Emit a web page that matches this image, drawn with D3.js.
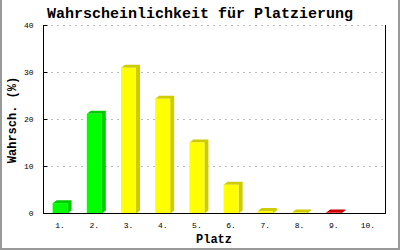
<!DOCTYPE html>
<html>
<head>
<meta charset="utf-8">
<script src="https://cdn.jsdelivr.net/npm/d3@7"></script>
<style>
  body { margin: 0; background: #fff; }
  text { font-family: 'Liberation Mono', 'DejaVu Sans Mono', monospace; }
</style>
</head>
<body>
<svg id="chart" width="400" height="250"></svg>
<script>
(function() {

  'use strict';

  var places = ['1.', '2.', '3.', '4.', '5.', '6.', '7.', '8.', '9.', '10.'];
  var chances = [2.1, 21.1, 30.9, 24.3, 15.0, 6.0, 0.4, 0.1, 0.1, 0];
  var groups = ['good', 'good', 'mid', 'mid', 'mid', 'mid', 'mid', 'mid', 'bad', 'bad'];
  var yTicks = [0, 10, 20, 30, 40];

  var faceColor = {good: '#00ff00', mid: '#ffff00', bad: '#ff0000'};
  var shadeColor = {good: '#00cc00', mid: '#cccc00', bad: '#cc0000'};
  var monoFont = 'Liberation Mono, DejaVu Sans Mono, monospace';

  var svg = d3.select('#chart');
  var left = 43, right = 385, top = 25, bottom = 213;
  var depthX = 4, depthY = 3, barW = 15;

  var x = d3.scaleBand().domain(places).range([left, right]);
  var y = d3.scaleLinear().domain([0, 40]).range([bottom, top]);

  // frame around the picture
  svg.append('path')
    .attr('d', 'M1,0V249H399V0')
    .attr('fill', 'none')
    .attr('stroke', '#999')
    .attr('stroke-width', 2);

  svg.append('text')
    .attr('x', 200).attr('y', 18)
    .attr('text-anchor', 'middle')
    .attr('font-size', '15px').attr('font-weight', 'bold')
    .text('Wahrscheinlichkeit für Platzierung');

  // grid
  svg.selectAll('.grid').data(yTicks.slice(1)).enter().append('line')
    .attr('class', 'grid')
    .attr('x1', left + 2).attr('x2', right)
    .attr('y1', function(d) { return y(d) + 0.5; })
    .attr('y2', function(d) { return y(d) + 0.5; })
    .attr('stroke', '#bbb')
    .attr('stroke-dasharray', '2,4');

  var bars = svg.selectAll('.bar').data(chances).enter().append('g').attr('class', 'bar')
    .filter(function(d) { return d > 0; });

  var bx = function(d, i) { return x.bandwidth() / 2 + x(places[i]) - barW / 2; };

  bars.append('path')
    .attr('fill', function(d, i) { return shadeColor[groups[i]]; })
    .attr('d', function(d, i) {
      var x0 = bx(d, i), x1 = x0 + barW, yt = y(d), yb = bottom + 0.5;
      return 'M' + x0 + ',' + yt + 'L' + (x0 + depthX) + ',' + (yt - depthY) +
        'L' + (x1 + depthX) + ',' + (yt - depthY) + 'L' + (x1 + depthX) + ',' + (yb - depthY) +
        'L' + x1 + ',' + yb + 'L' + x1 + ',' + yt + 'Z';
    });

  bars.append('rect')
    .attr('x', bx)
    .attr('y', function(d) { return y(d); })
    .attr('width', barW)
    .attr('height', function(d) { return bottom + 0.5 - y(d); })
    .attr('fill', function(d, i) { return faceColor[groups[i]]; });

  // y axis
  var yAxis = svg.append('g').attr('transform', 'translate(' + (left + 0.5) + ',0)')
    .call(d3.axisLeft(y).tickValues(yTicks).tickSizeInner(5).tickSizeOuter(0).tickPadding(5));
  yAxis.select('.domain').remove();
  yAxis.selectAll('.tick line').attr('x2', 4).attr('stroke', '#000');
  yAxis.selectAll('.tick text').attr('font-size', '8px').attr('font-family', monoFont);
  yAxis.append('line').attr('y1', top).attr('y2', bottom + 1).attr('stroke', '#000');

  // x axis
  var xAxis = svg.append('g').attr('transform', 'translate(0,' + (bottom + 0.5) + ')')
    .call(d3.axisBottom(x).tickSize(0).tickPadding(9));
  xAxis.select('.domain').remove();
  xAxis.selectAll('.tick text').attr('font-size', '8px').attr('font-family', monoFont);
  xAxis.append('line').attr('x1', left).attr('x2', right + 0.5).attr('stroke', '#000');

  svg.append('line')
    .attr('x1', right + 0.5).attr('x2', right + 0.5)
    .attr('y1', top).attr('y2', bottom + 1)
    .attr('stroke', '#000');

  svg.append('text')
    .attr('x', 214).attr('y', 243)
    .attr('text-anchor', 'middle')
    .attr('font-size', '12px').attr('font-weight', 'bold')
    .text('Platz');

  svg.append('text')
    .attr('transform', 'translate(16,120) rotate(-90)')
    .attr('text-anchor', 'middle')
    .attr('font-size', '12px').attr('font-weight', 'bold')
    .text('Wahrsch. (%)');

})();
</script>
</body>
</html>
